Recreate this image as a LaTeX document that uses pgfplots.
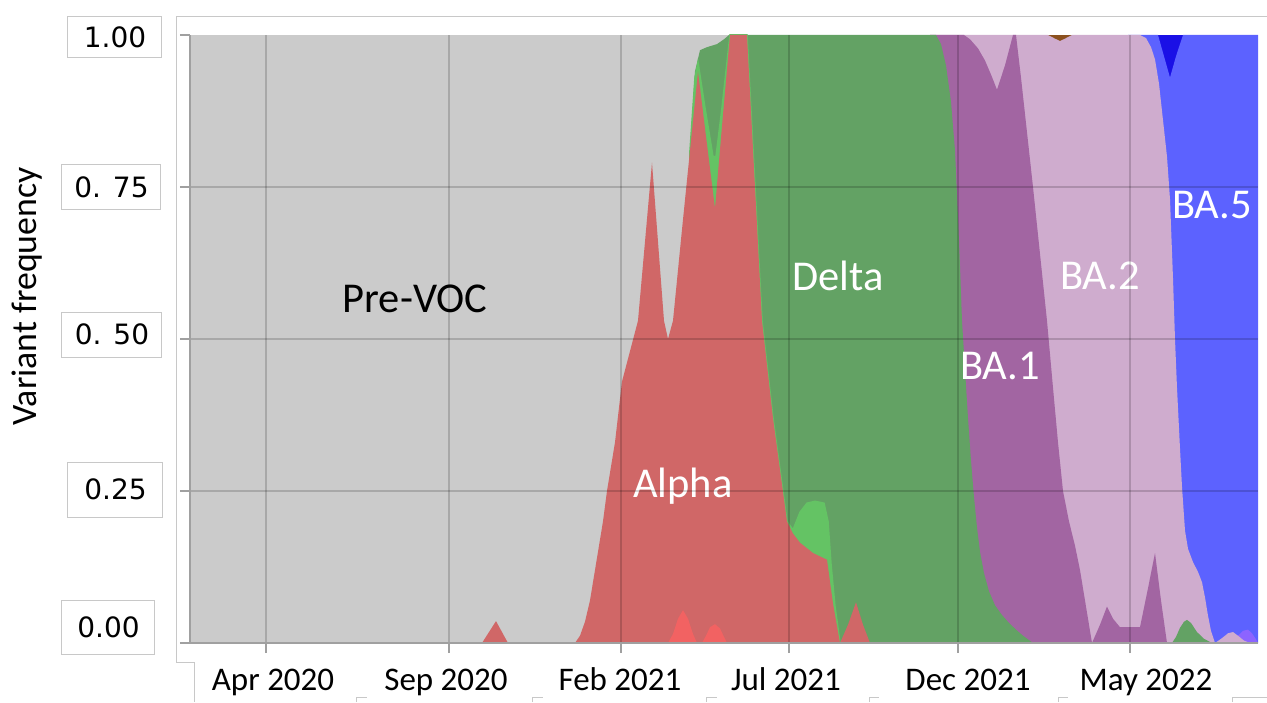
\documentclass[border=0pt]{standalone}
\usepackage{fontspec}
\setmainfont{Carlito}
\newfontfamily\dejavu{DejaVu Sans}
\usepackage{pgfplots}
\pgfplotsset{compat=1.18}
\definecolor{cPre}{RGB}{203,203,203}
\definecolor{cAlpha}{RGB}{208,103,103}
\definecolor{cAlphaB}{RGB}{242,98,98}
\definecolor{cDelta}{RGB}{99,162,100}
\definecolor{cDeltaL}{RGB}{100,195,100}
\definecolor{cBAone}{RGB}{162,101,162}
\definecolor{cBAtwo}{RGB}{207,172,206}
\definecolor{cBAfive}{RGB}{92,98,255}
\definecolor{cDarkBlue}{RGB}{26,16,230}
\definecolor{cBrown}{RGB}{139,80,30}
\definecolor{cViolet}{RGB}{140,100,255}
\definecolor{axisgray}{RGB}{160,160,160}
\definecolor{boxgray}{RGB}{200,200,200}
\begin{document}
\begin{tikzpicture}
\begin{axis}[
  x=0.4bp, y=243.2bp,
  xmin=190, xmax=1258, ymin=0, ymax=1,
  axis lines*=left,
  axis line style={draw=axisgray, line width=0.8bp},
  xtick={266,449,621,789,958,1130},
  xticklabels={},
  ytick={0.25,0.5,0.75},
  yticklabels={},
  extra y ticks={0,1},
  extra y tick labels={},
  extra y tick style={grid=none},
  grid=major,
  major grid style={draw=black, opacity=0.17, line width=0.6bp},
  tick style={draw=axisgray, line width=0.8bp},
  tick align=outside,
  major tick length=4bp,
  axis on top,
  clip mode=individual,
]
% Pre-VOC (top of stack)
\addplot[draw=none, fill=cPre] coordinates {(190,1) (1258,1)} \closedcycle;
% BA.4-like dark blue
\addplot[draw=none, fill=cDarkBlue] coordinates {(1128,1) (1258,1)} \closedcycle;
% BA.5 cumulative
\addplot[draw=none, fill=cBAfive] coordinates {(1128,1) (1158,1) (1164,0.965) (1170,0.93) (1176,0.965) (1183,1) (1258,1)} \closedcycle;
% brown
\addplot[draw=none, fill=cBrown] coordinates {(1045,1) (1075,1)} \closedcycle;
% violet
\addplot[draw=none, fill=cViolet] coordinates {(1234,0) (1238,0.012) (1243,0.02) (1248,0.022) (1252,0.016) (1256,0.006) (1258,0)} \closedcycle;
% BA.2 cumulative
\addplot[draw=none, fill=cBAtwo] coordinates {
(930,1) (1048,1) (1055,0.994) (1060,0.99) (1065,0.994) (1072,1) (1140,1)
(1146,0.995) (1151,0.98) (1155,0.96) (1159,0.92) (1163,0.86) (1167,0.8) (1170,0.73)
(1173,0.6) (1175,0.5) (1177,0.42) (1180,0.32) (1182,0.257) (1185,0.185) (1188,0.155)
(1193,0.133) (1198,0.117) (1202,0.1) (1205,0.075) (1208,0.045) (1211,0.02)
(1215,0) (1222,0.008) (1228,0.016) (1233,0.018) (1238,0.012) (1244,0.004)
(1250,0) (1258,0)} \closedcycle;
% BA.1 cumulative
\addplot[draw=none, fill=cBAone] coordinates {
(930,1) (964,1) (970,0.993) (978,0.978) (985,0.958) (991,0.935) (997,0.91)
(1005,0.95) (1013,1) (1016,1) (1021,0.93) (1027,0.84) (1033,0.75) (1040,0.64)
(1047,0.53) (1053,0.42) (1058,0.33) (1063,0.25) (1069,0.2) (1075,0.16) (1080,0.12)
(1086,0.06) (1092,0) (1100,0.03) (1107,0.06) (1113,0.04) (1120,0.026)
(1140,0.026) (1148,0.09) (1155,0.148) (1161,0.07) (1167,0)} \closedcycle;
% Delta cumulative
\addplot[draw=none, fill=cDelta] coordinates {
(690,0.81) (695,0.94) (700,0.975) (707,0.98) (717,0.985) (724,0.993) (729,1)
(936,1) (941,0.985) (946,0.95) (951,0.89) (955,0.81) (958,0.7) (960,0.62) (962,0.53)
(965,0.45) (968,0.37) (971,0.3) (974,0.24) (977,0.19) (980,0.15) (984,0.115) (989,0.085)
(995,0.062) (1002,0.046) (1009,0.033) (1016,0.022) (1023,0.012) (1033,0) (1172,0)
(1176,0.01) (1180,0.025) (1184,0.035) (1187,0.038) (1191,0.033) (1197,0.018)
(1204,0.007) (1212,0)} \closedcycle;
% other Delta (light green) cumulative
\addplot[draw=cDeltaL, line width=0.6bp, fill=cDeltaL] coordinates {
(690,0.81) (695,0.93) (698,0.955) (705,0.88) (713,0.8) (716,0.8) (722,0.88)
(730,1) (747,1) (755,0.75) (762,0.53) (773,0.37) (780,0.285) (787,0.2)
(793,0.186) (800,0.215) (807,0.23) (815,0.233) (824,0.23) (828,0.2)
(831,0.13) (835,0.06) (840,0)} \closedcycle;
% Alpha cumulative
\addplot[draw=none, fill=cAlpha] coordinates {
(190,0) (482,0) (489,0.018) (496,0.036) (502,0.018) (508,0) (575,0)
(580,0.012) (585,0.035) (590,0.07) (594,0.11) (598,0.15) (603,0.2)
(607,0.25) (615,0.33) (622,0.43) (630,0.48) (638,0.53) (645,0.66)
(652,0.79) (658,0.66) (664,0.53) (668,0.5) (673,0.53) (682,0.68)
(698,0.94) (707,0.82) (715,0.715) (722,0.85) (730,1) (747,1) (755,0.75)
(762,0.53) (773,0.37) (780,0.285) (787,0.2) (793,0.18) (800,0.165)
(813,0.148) (827,0.137) (833,0.065) (840,0) (848,0.03) (856,0.067)
(863,0.03) (870,0) (1258,0)} \closedcycle;
% Alpha sublineage (bright red)
\addplot[draw=none, fill=cAlphaB] coordinates {
(668,0) (673,0.015) (678,0.04) (683,0.054) (688,0.04) (693,0.015) (697,0)
(702,0) (706,0.012) (710,0.026) (715,0.031) (720,0.024) (724,0.01) (727,0)} \closedcycle;

% variant labels
\node[font=\fontsize{17bp}{20bp}\selectfont, anchor=base] at (axis cs:415,0.5444) {Pre-VOC};
\node[font=\fontsize{17bp}{20bp}\selectfont, anchor=base, white] at (axis cs:838,0.579) {Delta};
\node[font=\fontsize{17bp}{20bp}\selectfont, anchor=base, white] at (axis cs:683,0.240) {Alpha};
\node[font=\fontsize{17bp}{20bp}\selectfont, anchor=base, white] at (axis cs:1000,0.4326) {BA.1};
\node[font=\fontsize{17bp}{20bp}\selectfont, anchor=base, white] at (axis cs:1100,0.581) {BA.2};
\node[font=\fontsize{17bp}{20bp}\selectfont, anchor=base, white] at (axis cs:1212,0.699) {BA.5};

% y axis title
\node[rotate=90, font=\fontsize{14.3bp}{16bp}\selectfont] at (axis cs:27,0.570) {Variant frequency};

% y tick labels in boxes
\draw[boxgray, line width=0.4bp] (axis cs:68,1.0296) rectangle (axis cs:162,0.9638);
\draw[boxgray, line width=0.4bp] (axis cs:62,0.7862) rectangle (axis cs:161,0.7122);
\draw[boxgray, line width=0.4bp] (axis cs:62,0.5444) rectangle (axis cs:162,0.4704);
\draw[boxgray, line width=0.4bp] (axis cs:68,0.2977) rectangle (axis cs:163,0.2072);
\draw[boxgray, line width=0.4bp] (axis cs:62,0.0707) rectangle (axis cs:155,-0.0197);
\node[font=\dejavu\fontsize{11.2bp}{13bp}\selectfont] at (axis cs:115,0.9967) {1.00};
\node[font=\dejavu\fontsize{11.2bp}{13bp}\selectfont] at (axis cs:111.5,0.7492) {0. 75};
\node[font=\dejavu\fontsize{11.2bp}{13bp}\selectfont] at (axis cs:112,0.5074) {0. 50};
\node[font=\dejavu\fontsize{11.2bp}{13bp}\selectfont] at (axis cs:115.5,0.2525) {0.25};
\node[font=\dejavu\fontsize{11.2bp}{13bp}\selectfont] at (axis cs:108.5,0.0255) {0.00};

% x tick labels
\node[font=\fontsize{13.2bp}{15bp}\selectfont, anchor=base] at (axis cs:273,-0.0773) {Apr 2020};
\node[font=\fontsize{13.2bp}{15bp}\selectfont, anchor=base] at (axis cs:446,-0.0773) {Sep 2020};
\node[font=\fontsize{13.2bp}{15bp}\selectfont, anchor=base] at (axis cs:620,-0.0773) {Feb 2021};
\node[font=\fontsize{13.2bp}{15bp}\selectfont, anchor=base] at (axis cs:786,-0.0773) {Jul 2021};
\node[font=\fontsize{13.2bp}{15bp}\selectfont, anchor=base] at (axis cs:968,-0.0773) {Dec 2021};
\node[font=\fontsize{13.2bp}{15bp}\selectfont, anchor=base] at (axis cs:1146,-0.0773) {May 2022};

% chart frame
\draw[boxgray, line width=0.4bp] (axis cs:1267,1.0296) -- (axis cs:177,1.0296) -- (axis cs:177,-0.03125) -- (axis cs:195,-0.03125) -- (axis cs:195,-0.09704);
\draw[boxgray, line width=0.4bp] (axis cs:357,-0.09704) -- (axis cs:357,-0.0888) -- (axis cs:367,-0.0888);
\draw[boxgray, line width=0.4bp] (axis cs:533,-0.09704) -- (axis cs:533,-0.0888) -- (axis cs:543,-0.0888);
\draw[boxgray, line width=0.4bp] (axis cs:707,-0.09704) -- (axis cs:707,-0.0888) -- (axis cs:717,-0.0888);
\draw[boxgray, line width=0.4bp] (axis cs:869,-0.09704) -- (axis cs:869,-0.0888) -- (axis cs:879,-0.0888);
\draw[boxgray, line width=0.4bp] (axis cs:1058,-0.09704) -- (axis cs:1058,-0.0888) -- (axis cs:1068,-0.0888);
\draw[boxgray, line width=0.4bp] (axis cs:1232,-0.09704) -- (axis cs:1232,-0.0888) -- (axis cs:1267,-0.0888);

\coordinate (BL) at (axis cs:0,-0.09704);
\coordinate (TR) at (axis cs:1267,1.05757);
\end{axis}
\pgfresetboundingbox
\path[use as bounding box] (BL) rectangle (TR);
\end{tikzpicture}
\end{document}
